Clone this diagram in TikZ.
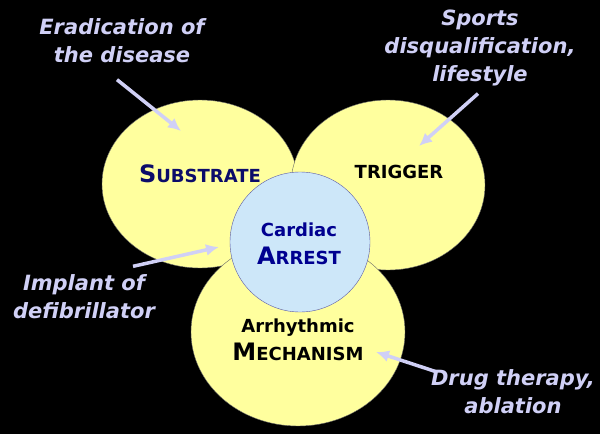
\documentclass[tikz,border=0pt]{standalone}
\usepackage{fontspec}
\setmainfont{DejaVu Sans}
\usetikzlibrary{arrows.meta, positioning, shapes.geometric}
\definecolor{paleyellow}{HTML}{FFFF9E}
\definecolor{paleblue}{HTML}{CDE7F9}
\definecolor{lavender}{HTML}{D0D0F6}
\definecolor{navy}{HTML}{0C0C6A}
\definecolor{arrestblue}{HTML}{000090}
\newcommand{\capsmall}[2]{{\fontsize{24}{24}\selectfont #1}{\fontsize{18}{18}\selectfont #2}}
\tikzset{
	every node/.style={
		align=center,
	},
}
\tikzstyle{factor} = [ellipse, draw=black!60, thin, fill=paleyellow]
\tikzstyle{core} = [circle, draw=blue!30!gray, thin, fill=paleblue, minimum size=140pt]
\tikzstyle{heading} = [font=\bfseries\fontsize{18}{28}\selectfont]
\tikzstyle{remedy} = [text=lavender, font=\bfseries\itshape\fontsize{21}{28}\selectfont]
\tikzstyle{pointer} = [draw=lavender, line width=3.5pt, -{Latex[length=13pt,width=12pt]}]

\begin{document}
\begin{tikzpicture}[x=1pt, y=-1pt]
    \fill[black] (0,0) rectangle (600,434);
    \useasboundingbox (0,0) rectangle (600,434);

    \node[factor, minimum width=196pt, minimum height=168pt] (substrate) at (200,184) {};
    \node[factor, minimum width=194pt, minimum height=170pt] (trigger) at (388,185) {};
    \node[factor, minimum width=214pt, minimum height=188pt] (mechanism) at (298,332) {};
    \node[core] (arrest) at (300,242) {};

    \node[heading, text=navy] (substrate-text) at (200,174) {\capsmall{S}{UBSTRATE}};
    \node[heading] (trigger-text) at (399,172) {TRIGGER};
    \node[heading, text=arrestblue] (arrest-text) at (299,244) {Cardiac\\\capsmall{A}{RREST}};
    \node[heading] (mechanism-text) at (298,340) {Arrhythmic\\\capsmall{M}{ECHANISM}};

    \node[remedy] (eradication) at (122,41) {Eradication of\\the disease};
    \node[remedy] (sports) at (480,48) {Sports\\disqualification,\\lifestyle};
    \node[remedy] (implant) at (84,297) {Implant of\\defibrillator};
    \node[remedy] (drug) at (513,392) {Drug therapy,\\ablation};

    \coordinate (substrate-tip) at (181,131);
    \coordinate (trigger-tip) at (419,146);
    \coordinate (arrest-tip) at (219,247);
    \coordinate (mechanism-tip) at (376,352);

    \draw[pointer] ([xshift=-5pt,yshift=-13pt]eradication.south) -- (substrate-tip);
    \draw[pointer] ([xshift=-2pt,yshift=-4pt]sports.south) -- (trigger-tip);
    \draw[pointer] ([xshift=49pt,yshift=5pt]implant.north) -- (arrest-tip);
    \draw[pointer] ([xshift=-78pt,yshift=-5pt]drug.north) -- (mechanism-tip);
\end{tikzpicture}
\end{document}
